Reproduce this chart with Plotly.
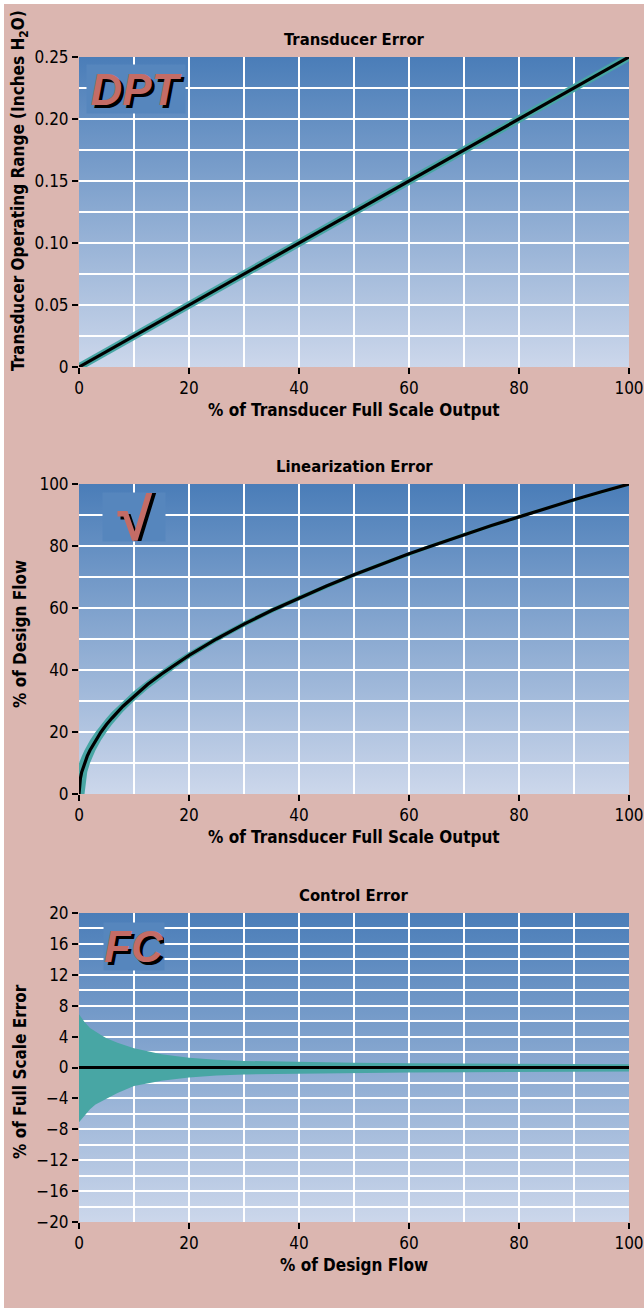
import base64
import plotly.graph_objects as go

# ---------------- data ----------------
# Panel 1: Transducer Error
dpt_x = [0, 100]
dpt_range = [0, 0.25]
dpt_upper = [0.0035, 0.2535]
dpt_lower = [-0.0035, 0.2465]
dpt_ticks = [0, 0.05, 0.10, 0.15, 0.20, 0.25]
dpt_ticktext = ["0", "0.05", "0.10", "0.15", "0.20", "0.25"]

# Panel 2: Linearization Error
lin_x = [0, 0.1, 0.25, 0.5, 1, 1.5, 2, 3, 4, 5, 6, 8, 10, 12.5, 15, 17.5, 20, 25, 30, 35,
         40, 45, 50, 55, 60, 65, 70, 75, 80, 85, 90, 95, 100]
lin_flow = [0, 3.2, 5, 7.1, 10, 12.2, 14.1, 17.3, 20, 22.4, 24.5, 28.3, 31.6, 35.4, 38.7, 41.8, 44.7, 50, 54.8, 59.2,
            63.2, 67.1, 70.7, 74.2, 77.5, 80.6, 83.7, 86.6, 89.4, 92.2, 94.9, 97.5, 100]
lin_upper = [10, 10.5, 11.2, 12.2, 14.1, 15.8, 17.3, 20, 22.4, 24.5, 26.5, 30, 33.2, 36.7, 40, 43, 45.8, 51, 55.7, 60,
             64, 67.8, 71.4, 74.8, 78.1, 81.2, 84.3, 87.2, 90, 92.7, 95.4, 98, 100.5]
lin_lower = [0, 0, 0, 0, 0, 7.1, 10, 14.1, 17.3, 20, 22.4, 26.5, 30, 33.9, 37.4, 40.6, 43.6, 49, 53.9, 58.3,
             62.4, 66.3, 70, 73.5, 76.8, 80, 83.1, 86, 88.9, 91.7, 94.3, 97, 99.5]
lin_ticks = [0, 20, 40, 60, 80, 100]

# Panel 3: Control Error
ce_x = [0, 1, 2, 3, 4, 5, 7, 10, 15, 20, 25, 30, 40, 50, 60, 70, 80, 90, 100]
ce_upper = [6.9, 5.9, 5.1, 4.6, 4.2, 3.8, 3.2, 2.5, 1.7, 1.25, 1.0, 0.85, 0.7, 0.6, 0.55, 0.5, 0.47, 0.45, 0.43]
ce_lower = [-7.1, -6.2, -5.4, -4.8, -4.4, -4.0, -3.3, -2.4, -1.7, -1.3, -1.05, -0.9, -0.78, -0.7, -0.64, -0.6, -0.56, -0.54, -0.52]
ce_line_x = [0, 100]
ce_line_y = [0, 0]
ce_ticks = [20, 16, 12, 8, 4, 0, -4, -8, -12, -16, -20]

x_ticks = [0, 20, 40, 60, 80, 100]

titles = ["Transducer Error", "Linearization Error", "Control Error"]
x_titles = ["% of Transducer Full Scale Output", "% of Transducer Full Scale Output", "% of Design Flow"]
y_titles = ["Transducer Operating Range (Inches H<sub>2</sub>O)", "% of Design Flow", "% of Full Scale Error"]
badges = ["DPT", "\u221a", "FC"]

# ---------------- styling ----------------
W, H = 644, 1308
L, R, T, B = 79, 15, 57, 86
PW, PH = W - L - R, H - T - B

PINK = "#dbb6b0"
TEAL = "#48a6a4"
SALMON = "#c46c66"
BOXBLUE = "#5686bd"
FONT = "Liberation Sans Narrow, DejaVu Sans Condensed, Roboto, sans-serif"
BADGE_FONT = "Liberation Sans, Arial, sans-serif"


def py(p):
    return (H - B - p) / PH


def px(p):
    return (p - L) / PW


domains = [[py(367), 1.0], [py(794), py(484)], [0.0, py(913)]]
ytitle_centers = [191, 634, 1072]

svg = ("<svg xmlns='http://www.w3.org/2000/svg' width='10' height='100' viewBox='0 0 10 100' "
       "preserveAspectRatio='none'><defs><linearGradient id='g' x1='0' y1='0' x2='0' y2='1'>"
       "<stop offset='0' stop-color='#4a7db8'/><stop offset='1' stop-color='#ccd7eb'/>"
       "</linearGradient></defs><rect width='10' height='100' fill='url(#g)'/></svg>")
grad_src = "data:image/svg+xml;base64," + base64.b64encode(svg.encode()).decode()

fig = go.Figure()


def add_band(i, x, lo, hi, lx, ly):
    xa = "x" if i == 0 else f"x{i+1}"
    ya = "y" if i == 0 else f"y{i+1}"
    fig.add_trace(go.Scatter(x=x, y=lo, mode="lines", line=dict(width=0, color=TEAL),
                             xaxis=xa, yaxis=ya, showlegend=False, hoverinfo="skip"))
    fig.add_trace(go.Scatter(x=x, y=hi, mode="lines", line=dict(width=0, color=TEAL),
                             fill="tonexty", fillcolor=TEAL,
                             xaxis=xa, yaxis=ya, showlegend=False, hoverinfo="skip"))
    fig.add_trace(go.Scatter(x=lx, y=ly, mode="lines", line=dict(width=3.2, color="black"),
                             xaxis=xa, yaxis=ya, showlegend=False))


add_band(0, dpt_x, dpt_lower, dpt_upper, dpt_x, dpt_range)
add_band(1, lin_x, lin_lower, lin_upper, lin_x, lin_flow)
add_band(2, ce_x, ce_lower, ce_upper, ce_line_x, ce_line_y)

tickfont = dict(family=FONT, size=17, color="black")
grid = dict(showgrid=True, gridcolor="white", gridwidth=2)

layout = dict(
    width=W, height=H,
    margin=dict(l=L, r=R, t=T, b=B, autoexpand=False),
    paper_bgcolor=PINK, plot_bgcolor="rgba(0,0,0,0)",
    font=dict(family=FONT, color="black"),
    showlegend=False,
)

y_cfg = [
    dict(range=[0, 0.25], tickvals=dpt_ticks, ticktext=dpt_ticktext,
         minor=dict(tick0=0, dtick=0.025, ticks="", **grid)),
    dict(range=[0, 100], tickvals=lin_ticks,
         minor=dict(tick0=0, dtick=10, ticks="", **grid)),
    dict(range=[-20, 20], tickvals=ce_ticks,
         minor=dict(tick0=0, dtick=2, ticks="", **grid)),
]

images = []
annotations = []
for i in range(3):
    sx = "" if i == 0 else str(i + 1)
    layout[f"xaxis{sx}"] = dict(
        domain=[0, 1], range=[0, 100], tickvals=x_ticks, anchor=f"y{sx}",
        ticks="outside", ticklen=6, tickwidth=1.5, tickcolor="black", automargin=False,
        showline=False, zeroline=False, tickfont=tickfont,
        minor=dict(tick0=0, dtick=10, ticks="", **grid), **grid)
    layout[f"yaxis{sx}"] = dict(
        domain=domains[i], anchor=f"x{sx}", automargin=False,
        ticks="outside", ticklen=6, tickwidth=1.5, tickcolor="black",
        showline=False, zeroline=False, tickfont=tickfont, **grid, **y_cfg[i])
    images.append(dict(source=grad_src, xref=f"x{sx} domain", yref=f"y{sx} domain",
                       x=0, y=1, sizex=1, sizey=1, sizing="stretch",
                       xanchor="left", yanchor="top", layer="below"))
    # title
    annotations.append(dict(text=f"<b>{titles[i]}</b>", xref=f"x{sx} domain",
                            yref=f"y{sx} domain", x=0.5, y=1, yanchor="bottom", yshift=6,
                            showarrow=False, font=dict(family=FONT, size=16.5, color="black")))
    # x title
    annotations.append(dict(text=f"<b>{x_titles[i]}</b>", xref=f"x{sx} domain",
                            yref=f"y{sx} domain", x=0.5, y=0, yanchor="middle", yshift=-43,
                            showarrow=False, font=dict(family=FONT, size=17, color="black")))
    # y title
    annotations.append(dict(text=f"<b>{y_titles[i]}</b>", xref="paper",
                            yref="paper", x=px(20), y=py(ytitle_centers[i]), xanchor="center",
                            yanchor="middle", textangle=-90,
                            showarrow=False, font=dict(family=FONT, size=17, color="black")))

# badges: coloured bold-italic text with a black drop shadow on a blue box
badge_pos = [(10.4, 0.224), (10, 89.4), (10, 15.7)]
badge_box = [(98, 48), (62, 48), (60, 47)]
badge_size = [44, 66, 44]
for i in range(3):
    sx = "" if i == 0 else str(i + 1)
    bx, by = badge_pos[i]
    w, h = badge_box[i]
    annotations.append(dict(text=f"<b><i>{badges[i]}</i></b>", xref=f"x{sx}", yref=f"y{sx}",
                            x=bx, y=by, width=w, height=h,
                            bgcolor=BOXBLUE, showarrow=False, borderpad=0,
                            font=dict(family=BADGE_FONT, size=badge_size[i], color=SALMON,
                                      shadow="3px 3px 0px black")))

shapes = [
    dict(type="rect", xref="paper", yref="paper", x0=-1, x1=px(4), y0=-1, y1=2,
         fillcolor="white", line=dict(width=0), layer="below"),
    dict(type="rect", xref="paper", yref="paper", x0=-1, x1=2, y0=py(4), y1=2,
         fillcolor="white", line=dict(width=0), layer="below"),
]

layout["images"] = images
layout["annotations"] = annotations
layout["shapes"] = shapes
fig.update_layout(**layout)

fig.write_html(
    "out.html",
    config={"displayModeBar": False},
    post_script=("document.body.style.margin='0px';"
                 "document.body.style.background='" + PINK + "';"
                 "document.documentElement.style.overflow='hidden';"),
)
